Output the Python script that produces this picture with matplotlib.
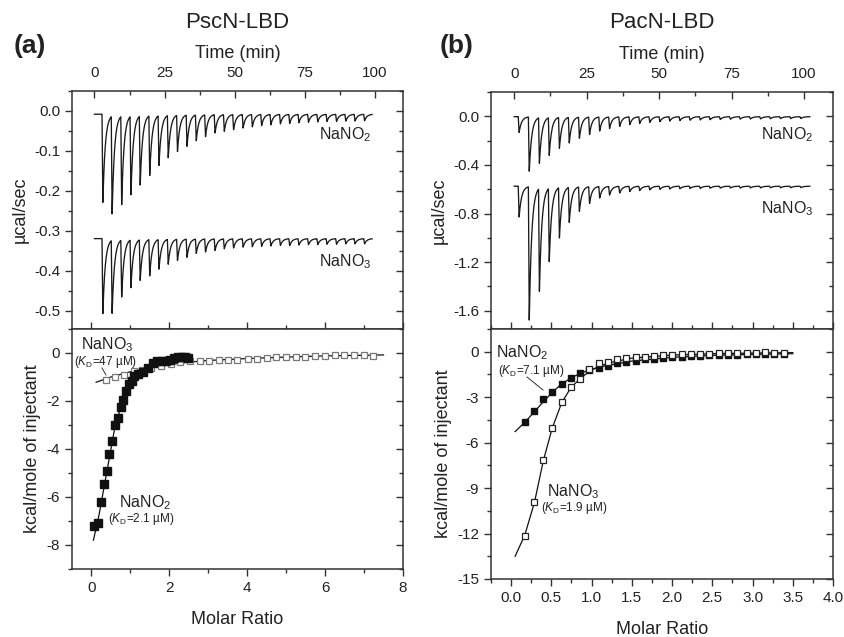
import numpy as np
import matplotlib.pyplot as plt
from matplotlib.ticker import MultipleLocator, FixedLocator

plt.rcParams['font.family'] = ['Liberation Sans', 'DejaVu Sans']
plt.rcParams['mathtext.fontset'] = 'custom'
plt.rcParams['mathtext.rm'] = 'Liberation Sans'
plt.rcParams['mathtext.it'] = 'Liberation Sans:italic'
plt.rcParams['mathtext.bf'] = 'Liberation Sans:bold'

# --- (a) PscN-LBD, raw titration (peak minima in ucal/sec) ---
a_inj_time = [2.7, 6.0, 9.4, 12.7, 16.0, 19.4, 22.7, 26.0, 29.3, 32.7, 36.0, 39.3, 42.7, 46.0, 49.3,
              52.7, 56.0, 59.3, 62.6, 66.0, 69.3, 72.6, 76.0, 79.3, 82.6, 86.0, 89.3, 92.6, 96.0]
a_no2_base = -0.008
a_no2_peak = [-0.230, -0.254, -0.232, -0.207, -0.183, -0.159, -0.134, -0.115, -0.100, -0.087, -0.073,
              -0.063, -0.054, -0.050, -0.046, -0.042, -0.039, -0.036, -0.034, -0.032, -0.031, -0.029,
              -0.028, -0.027, -0.026, -0.026, -0.025, -0.025, -0.024]
a_no3_base = -0.319
a_no3_peak = [-0.508, -0.503, -0.463, -0.440, -0.422, -0.411, -0.394, -0.382, -0.373, -0.365, -0.355,
              -0.352, -0.348, -0.344, -0.342, -0.340, -0.339, -0.338, -0.337, -0.336, -0.336, -0.335,
              -0.334, -0.334, -0.333, -0.333, -0.332, -0.332, -0.332]

# --- (a) integrated heats (kcal/mol) ---
a_no2_ratio = [0.07, 0.16, 0.25, 0.32, 0.39, 0.46, 0.54, 0.61, 0.68, 0.75, 0.82, 0.89, 0.96, 1.03,
               1.10, 1.20, 1.32, 1.45, 1.57, 1.69, 1.80, 1.92, 2.02, 2.13, 2.23, 2.32, 2.40, 2.48]
a_no2_heat = [-7.2, -7.1, -6.2, -5.45, -4.9, -4.2, -3.65, -3.0, -2.7, -2.25, -1.95, -1.6, -1.3, -1.15,
              -0.95, -0.88, -0.8, -0.62, -0.4, -0.35, -0.35, -0.33, -0.3, -0.22, -0.17, -0.16, -0.17, -0.2]
a_no2_fit_x = [0.05, 0.2, 0.4, 0.6, 0.8, 1.0, 1.2, 1.5, 2.0, 2.5]
a_no2_fit_y = [-7.8, -6.7, -4.9, -3.1, -2.0, -1.25, -0.85, -0.55, -0.3, -0.2]

a_no3_ratio = [0.37, 0.61, 0.84, 1.08, 1.31, 1.54, 1.79, 2.03, 2.27, 2.53, 2.78, 3.03, 3.27, 3.51, 3.75,
               4.01, 4.25, 4.50, 4.74, 5.00, 5.24, 5.49, 5.74, 6.00, 6.25, 6.49, 6.74, 7.00, 7.24]
a_no3_heat = [-1.11, -0.99, -0.92, -0.77, -0.70, -0.63, -0.56, -0.46, -0.39, -0.35, -0.35, -0.32, -0.31,
              -0.28, -0.28, -0.25, -0.25, -0.22, -0.15, -0.18, -0.17, -0.15, -0.11, -0.11, -0.07, -0.08,
              -0.08, -0.10, -0.11]
a_no3_fit_x = [0.12, 0.5, 1.0, 1.5, 2.0, 2.5, 3.0, 4.0, 5.0, 6.0, 7.5]
a_no3_fit_y = [-1.22, -1.0, -0.78, -0.62, -0.48, -0.38, -0.31, -0.23, -0.17, -0.12, -0.08]

# --- (b) PacN-LBD, raw titration ---
b_inj_time = [1.4, 4.9, 8.4, 11.8, 15.3, 18.7, 22.2, 25.7, 29.2, 32.6, 36.1, 39.6, 43.0, 46.5, 50.0,
              53.4, 56.9, 60.4, 63.9, 67.3, 70.8, 74.3, 77.7, 81.2, 84.7, 88.1, 91.6, 95.1, 98.6]
b_no2_base = -0.003
b_no2_peak = [-0.134, -0.452, -0.381, -0.315, -0.260, -0.216, -0.178, -0.148, -0.120, -0.099, -0.082,
              -0.068, -0.058, -0.050, -0.044, -0.039, -0.035, -0.032, -0.030, -0.028, -0.026, -0.024,
              -0.023, -0.022, -0.021, -0.020, -0.019, -0.019, -0.018]
b_no3_base = -0.575
b_no3_peak = [-0.830, -1.679, -1.427, -1.181, -0.995, -0.866, -0.778, -0.715, -0.671, -0.647, -0.630,
              -0.619, -0.611, -0.605, -0.601, -0.598, -0.596, -0.594, -0.593, -0.592, -0.591, -0.590,
              -0.590, -0.589, -0.589, -0.588, -0.588, -0.588, -0.587]

# --- (b) integrated heats ---
b_ratio = [0.17, 0.29, 0.40, 0.51, 0.63, 0.74, 0.86, 0.97, 1.09, 1.20, 1.32, 1.43, 1.55, 1.66, 1.77,
           1.89, 2.00, 2.12, 2.23, 2.35, 2.46, 2.58, 2.69, 2.81, 2.93, 3.04, 3.16, 3.27, 3.39]
b_no2_heat = [-4.66, -3.92, -3.13, -2.69, -2.10, -1.73, -1.42, -1.20, -1.05, -0.92, -0.75, -0.65, -0.58,
              -0.50, -0.45, -0.40, -0.36, -0.32, -0.30, -0.27, -0.24, -0.22, -0.20, -0.19, -0.17, -0.16,
              -0.15, -0.14, -0.13]
b_no3_heat = [-12.14, -9.91, -7.13, -5.05, -3.33, -2.36, -1.77, -1.16, -0.72, -0.66, -0.50, -0.44, -0.37,
              -0.33, -0.28, -0.24, -0.22, -0.18, -0.18, -0.15, -0.13, -0.11, -0.11, -0.09, -0.09, -0.07,
              -0.04, -0.07, -0.07]
b_no2_fit_x = [0.05, 0.17, 0.3, 0.4, 0.5, 0.6, 0.75, 0.9, 1.0, 1.2, 1.5, 2.0, 2.5, 3.0, 3.5]
b_no2_fit_y = [-5.27, -4.66, -3.9, -3.3, -2.75, -2.25, -1.7, -1.35, -1.15, -0.9, -0.62, -0.37, -0.24, -0.17, -0.13]
b_no3_fit_x = [0.05, 0.17, 0.29, 0.40, 0.51, 0.63, 0.74, 0.86, 1.0, 1.2, 1.5, 2.0, 2.5, 3.0, 3.5]
b_no3_fit_y = [-13.5, -12.1, -9.95, -7.2, -5.05, -3.35, -2.4, -1.75, -1.2, -0.75, -0.42, -0.22, -0.13, -0.09, -0.06]

time_ticks = [0, 25, 50, 75, 100]

W, H = 845, 637
INK = '#222222'
EDGE = '#333333'


def trace(t, base, inj_t, peaks):
    # baseline plus one sharp spike per injection (drop, then exponential return)
    y = np.full_like(t, base)
    for ti, p in zip(inj_t, peaks):
        dt = t - ti
        g = np.where(dt < 0, 0.0, np.where(dt < 0.3, dt / 0.3, np.exp(-(dt - 0.3) / 0.85)))
        y += (p - base) * g
    return y


def box(fig, x0, y0, x1, y1):
    # pixel box (left, top, right, bottom) -> axes
    return fig.add_axes([x0 / W, 1 - y1 / H, (x1 - x0) / W, (y1 - y0) / H])


def tick_style(a, direction):
    a.tick_params(which='both', direction=direction, colors=EDGE, labelcolor=INK, labelsize=11)
    a.tick_params(which='major', length=5, width=1)
    a.tick_params(which='minor', length=3, width=1)


def style(ax):
    for s in ax.spines.values():
        s.set_color(EDGE)
        s.set_linewidth(1.1)
    tick_style(ax, 'out')
    ax.tick_params(which='both', left=True, right=False, top=True, bottom=True)


def in_range(step, lo, hi):
    # tick positions inside the visible range only
    k0, k1 = int(np.ceil(lo / step - 1e-9)), int(np.floor(hi / step + 1e-9))
    return [k * step for k in range(k0, k1 + 1)]


def right_ticks(ax, major, minor, lim):
    # right side carries inward ticks, no labels
    r = ax.secondary_yaxis('right')
    r.yaxis.set_major_locator(FixedLocator(in_range(major, *lim)))
    r.yaxis.set_minor_locator(FixedLocator(in_range(minor, *lim)))
    tick_style(r, 'in')
    r.tick_params(labelright=False)
    r.spines['right'].set_visible(False)
    return r


def ftext(fig, x, y, s, **kw):
    fig.text(x / W, 1 - y / H, s, color=INK, **kw)


def main():
    fig = plt.figure(figsize=(8.45, 6.37), dpi=100)

    panels = [
        dict(tag='(a)', name='PscN-LBD', top=(72, 91, 403, 329), bot=(72, 329, 403, 569),
             inj=a_inj_time, t_end=99,
             raw=[(a_no2_base, a_no2_peak), (a_no3_base, a_no3_peak)],
             ylim_top=(-0.545, 0.05), major_top=0.1, minor_top=0.05,
             xlim_bot=(-0.5, 8), xmaj=2, xmin=1, ylim_bot=(-9, 1), ymaj=2, ymin=1,
             top_lab_y=(135, 262), top_lab_x=371, tag_x=30),
        dict(tag='(b)', name='PacN-LBD', top=(491, 92, 833, 329), bot=(491, 329, 833, 579),
             inj=b_inj_time, t_end=102,
             raw=[(b_no2_base, b_no2_peak), (b_no3_base, b_no3_peak)],
             ylim_top=(-1.75, 0.2), major_top=0.4, minor_top=0.2,
             xlim_bot=(-0.25, 4.0), xmaj=0.5, xmin=0.25, ylim_bot=(-15, 1.5), ymaj=3, ymin=1.5,
             top_lab_y=(135, 209), top_lab_x=813, tag_x=457),
    ]

    t = np.linspace(0, 110, 8000)
    for p in panels:
        # raw heat trace
        ax = box(fig, *p['top'])
        style(ax)
        tt = t[t <= p['t_end']]
        for base, peaks in p['raw']:
            ax.plot(tt, trace(tt, base, p['inj'], peaks), color='#1a1a1a', lw=0.95)
        ax.set_xlim(-8, 110)
        ax.set_ylim(*p['ylim_top'])
        ax.xaxis.set_major_locator(FixedLocator(time_ticks))
        ax.xaxis.set_minor_locator(FixedLocator(in_range(12.5, -8, 110)))
        ax.yaxis.set_major_locator(MultipleLocator(p['major_top']))
        ax.yaxis.set_minor_locator(MultipleLocator(p['minor_top']))
        ax.yaxis.set_major_formatter(lambda v, pos: f'{v:.1f}')
        ax.tick_params(which='both', top=False, labelbottom=False)
        ax.set_ylabel('µcal/sec', fontsize=13, color=INK)
        # time axis on top with inward ticks
        top = ax.secondary_xaxis('top')
        top.xaxis.set_major_locator(FixedLocator(time_ticks))
        top.xaxis.set_minor_locator(FixedLocator(in_range(12.5, -8, 110)))
        tick_style(top, 'in')
        top.tick_params(which='major', pad=8)
        top.spines['top'].set_visible(False)
        top.set_xlabel('Time (min)', fontsize=13, color=INK, labelpad=6)
        right_ticks(ax, p['major_top'], p['minor_top'], p['ylim_top'])

        x0, x1 = p['top'][0], p['top'][2]
        ftext(fig, (x0 + x1) / 2, 22, p['name'], fontsize=16, ha='center', va='center')
        ftext(fig, p['tag_x'], 46, p['tag'], fontsize=19, fontweight='bold', ha='center', va='center')
        ftext(fig, p['top_lab_x'], p['top_lab_y'][0], 'NaNO$_2$', fontsize=11.5, ha='right', va='center')
        ftext(fig, p['top_lab_x'], p['top_lab_y'][1], 'NaNO$_3$', fontsize=11.5, ha='right', va='center')

        # integrated heats
        bx = box(fig, *p['bot'])
        style(bx)
        bx.set_xlim(*p['xlim_bot'])
        bx.set_ylim(*p['ylim_bot'])
        bx.xaxis.set_major_locator(FixedLocator(in_range(p['xmaj'], *p['xlim_bot'])))
        bx.xaxis.set_minor_locator(FixedLocator(in_range(p['xmin'], *p['xlim_bot'])))
        bx.yaxis.set_major_locator(FixedLocator(in_range(p['ymaj'], *p['ylim_bot'])))
        bx.yaxis.set_minor_locator(FixedLocator(in_range(p['ymin'], *p['ylim_bot'])))
        bx.set_xlabel('Molar Ratio', fontsize=13, color=INK, labelpad=12)
        bx.set_ylabel('kcal/mole of injectant', fontsize=13, color=INK)
        right_ticks(bx, p['ymaj'], p['ymin'], p['ylim_bot'])
        p['bx'] = bx

    bx = panels[0]['bx']
    bx.yaxis.set_major_formatter(lambda v, pos: f'{v:.0f}')
    bx.xaxis.set_major_formatter(lambda v, pos: f'{v:.0f}')
    bx.plot(a_no3_fit_x, a_no3_fit_y, color='#111111', lw=0.9)
    bx.plot(a_no3_ratio, a_no3_heat, 's', ms=4.8, mfc='white', mec='#777777', mew=0.9)
    bx.plot(a_no2_fit_x, a_no2_fit_y, color='#111111', lw=0.9)
    bx.plot(a_no2_ratio, a_no2_heat, 's', ms=5.2, mfc='#111111', mec='#111111')
    ftext(fig, 107, 345, 'NaNO$_3$', fontsize=11.5, ha='center', va='center')
    ftext(fig, 105, 362, r'($K_\mathrm{D}$=47 µM)', fontsize=8.5, ha='center', va='center')
    fig.add_artist(plt.Line2D([102 / W, 106 / W], [1 - 368 / H, 1 - 375 / H], color=EDGE, lw=0.7))
    ftext(fig, 145, 503, 'NaNO$_2$', fontsize=11.5, ha='center', va='center')
    ftext(fig, 141, 519, r'($K_\mathrm{D}$=2.1 µM)', fontsize=8.5, ha='center', va='center')

    bx = panels[1]['bx']
    bx.yaxis.set_major_formatter(lambda v, pos: f'{v:.0f}')
    bx.xaxis.set_major_formatter(lambda v, pos: f'{v:.1f}')
    bx.plot(b_no2_fit_x, b_no2_fit_y, color='#111111', lw=0.9)
    bx.plot(b_ratio, b_no2_heat, 's', ms=5, mfc='#111111', mec='#111111')
    bx.plot(b_no3_fit_x, b_no3_fit_y, color='#111111', lw=0.9)
    bx.plot(b_ratio, b_no3_heat, 's', ms=5, mfc='white', mec='#222222', mew=0.9)
    ftext(fig, 522, 353, 'NaNO$_2$', fontsize=11.5, ha='center', va='center')
    ftext(fig, 531, 371, r'($K_\mathrm{D}$=7.1 µM)', fontsize=8.5, ha='center', va='center')
    fig.add_artist(plt.Line2D([527 / W, 543 / W], [1 - 377 / H, 1 - 390 / H], color=EDGE, lw=0.7))
    ftext(fig, 573, 492, 'NaNO$_3$', fontsize=11.5, ha='center', va='center')
    ftext(fig, 574, 508, r'($K_\mathrm{D}$=1.9 µM)', fontsize=8.5, ha='center', va='center')

    fig.savefig('out.png', dpi=100)


if __name__ == "__main__":
    main()
